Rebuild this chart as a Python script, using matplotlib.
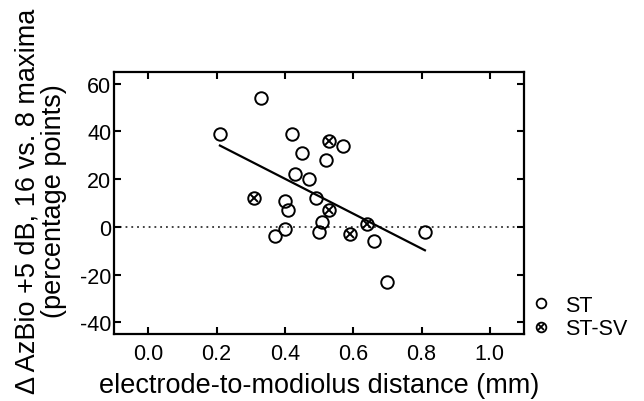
import numpy as np
import matplotlib
matplotlib.use("Agg")
import matplotlib.pyplot as plt
from matplotlib.lines import Line2D
from matplotlib.legend_handler import HandlerTuple

plt.rcParams['font.family'] = ['Liberation Sans', 'DejaVu Sans']

# ST electrodes
st_x = [0.21, 0.33, 0.42, 0.57, 0.45, 0.52, 0.43, 0.47, 0.40, 0.49, 0.41, 0.51, 0.40, 0.50, 0.37, 0.66, 0.81, 0.70]
st_y = [39, 54, 39, 34, 31, 28, 22, 20, 11, 12, 7, 2, -1, -2, -4, -6, -2, -23]
# ST-SV electrodes
sv_x = [0.53, 0.31, 0.53, 0.64, 0.59]
sv_y = [36, 12, 7, 1, -3]

xticks = [0.0, 0.2, 0.4, 0.6, 0.8, 1.0]
yticks = [-40, -20, 0, 20, 40, 60]

fig = plt.figure(figsize=(6.44, 4.02), dpi=100)
ax = fig.add_axes([114/644, 1-335.3/402, (524-114)/644, (335.3-72.7)/402])

ax.axhline(0, color='#333333', lw=1.3, ls=(0, (1, 2.2)), zorder=1)

all_x = np.array(st_x + sv_x)
all_y = np.array(st_y + sv_y)
slope, icpt = np.polyfit(all_x, all_y, 1)
fx = np.array([all_x.min(), all_x.max()])
ax.plot(fx, slope*fx + icpt, color='black', lw=1.6, zorder=2)

ms = 9.0
mew = 1.4
ax.plot(st_x, st_y, ls='none', marker='o', ms=ms, mfc='none', mec='black', mew=mew, zorder=3)
ax.plot(sv_x, sv_y, ls='none', marker='o', ms=ms, mfc='none', mec='black', mew=mew, zorder=3)
ax.plot(sv_x, sv_y, ls='none', marker='x', ms=5.2, mec='black', mew=mew, zorder=3)

ax.set_xlim(-0.1, 1.1)
ax.set_ylim(-45, 65)
ax.set_xticks(xticks)
ax.set_xticklabels([f"{t:.1f}" for t in xticks])
ax.set_yticks(yticks)
ax.set_yticklabels([str(t) for t in yticks])
ax.tick_params(direction='in', length=5, width=1.5, top=True, right=True,
               labelsize=15.5, pad=2)
ax.tick_params(axis='x', pad=6)
for s in ax.spines.values():
    s.set_linewidth(1.6)

ax.set_xlabel('electrode-to-modiolus distance (mm)', fontsize=19.5, labelpad=6)
fig.text(41/644, 1-201/402, 'Δ AzBio +5 dB, 16 vs. 8 maxima\n(percentage points)',
         rotation=90, ha='center', va='center', fontsize=19.5, linespacing=1.03,
         multialignment='center')

h1 = Line2D([], [], ls='none', marker='o', ms=7, mfc='none', mec='black', mew=1.3)
h2a = Line2D([], [], ls='none', marker='o', ms=7, mfc='none', mec='black', mew=1.3)
h2b = Line2D([], [], ls='none', marker='x', ms=4.2, mec='black', mew=1.3)
fig.legend([h1, (h2a, h2b)], ['ST', 'ST-SV'],
           handler_map={tuple: HandlerTuple(ndivide=1, pad=0)},
           loc='center left', bbox_to_anchor=(530/644, 1-318/402),
           frameon=False, fontsize=15.5, handlelength=1.0, handletextpad=0.65,
           labelspacing=0.1, borderaxespad=0, borderpad=0)

fig.savefig('out.png', dpi=100)
